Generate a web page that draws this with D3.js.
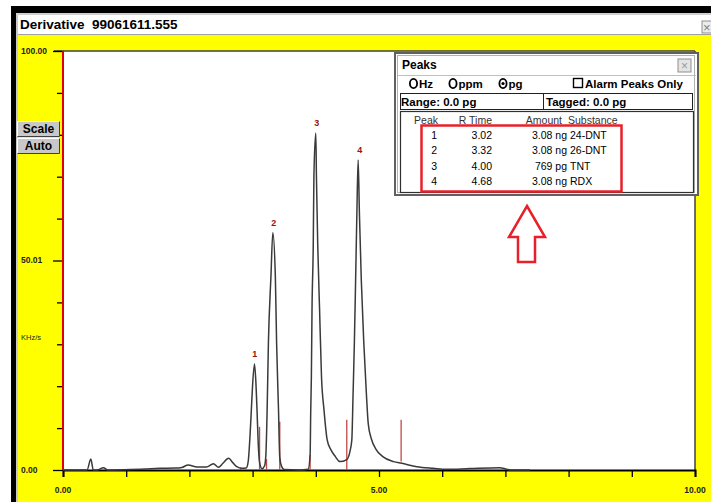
<!DOCTYPE html>
<html>
<head>
<meta charset="utf-8">
<script src="https://cdn.jsdelivr.net/npm/d3@7"></script>
<style>
  body { margin: 0; background: #fff; }
  text { font-family: "Liberation Sans", Arial, sans-serif; }
</style>
</head>
<body>
<div id="chart"></div>
<script>
// trace (retention time in min, signal in KHz/s)
var traceX = [0, 0.27, 0.38, 0.44, 0.48, 0.54, 0.64, 0.71, 1.06, 1.30, 1.53, 1.77, 1.88, 1.98, 2.12, 2.27, 2.38, 2.46, 2.53, 2.62, 2.69, 2.75, 2.83, 2.90, 2.93,
  2.96, 2.98, 3.00, 3.03, 3.05, 3.07, 3.09, 3.11, 3.15, 3.19, 3.21, 3.23, 3.25, 3.29, 3.32, 3.36, 3.38, 3.41, 3.43, 3.46, 3.50,
  3.74, 3.88, 3.91, 3.92, 3.93, 3.94, 3.96, 3.97, 4.00, 4.01, 4.03, 4.06, 4.09, 4.13, 4.18, 4.24, 4.31, 4.38, 4.49, 4.54, 4.57, 4.59,
  4.61, 4.63, 4.65, 4.67, 4.69, 4.72, 4.76, 4.80, 4.83, 4.88, 4.95, 5.06, 5.23, 5.36, 5.60, 5.86, 6.07, 6.44, 6.91, 7.02, 7.10, 7.39, 7.59];
var traceY = [0, 0, 0, 2.6, 0, 0, 0.55, 0, 0.1, 0.25, 0.4, 0.45, 0.6, 1.2, 0.7, 0.7, 1.5, 0.65, 1.6, 2.8, 1.7, 0.8, 0.4, 0.5, 2.0,
  8.4, 14.3, 20.3, 25.3, 21.5, 14.3, 6.0, 1.9, 0.3, 1.0, 3.6, 14.3, 30.2, 46.1, 56.6, 46.1, 30.2, 14.3, 3.0, 0.8, 0.1,
  0, 0.2, 3.6, 14.3, 22.3, 38.2, 54.1, 70.0, 80.4, 70.0, 54.1, 38.2, 22.3, 14.3, 7.2, 4.8, 3.2, 2.0, 2.5, 4.4, 7.2,
  18.3, 30.2, 45.3, 61.3, 74.0, 61.3, 45.3, 30.2, 18.3, 11.0, 7.4, 5.0, 3.2, 2.0, 1.6, 0.8, 0.4, 0.15, 0.35, 0.55, 0.2, 0, 0];

// peak table
var peakNums = [1, 2, 3, 4];
var rTimes = [3.02, 3.32, 4.00, 4.68];
var peakTops = [25.3, 56.6, 80.4, 74.0];
var amounts = ["3.08 ng", "3.08 ng", "769 pg", "3.08 ng"];
var substances = ["24-DNT", "26-DNT", "TNT", "RDX"];

// red integration markers
var markerX = [2.81, 3.11, 3.22, 3.43, 3.91, 4.49, 5.35];
var markerLo = [0, 0, 0, 0, 0, 0, 2.0];
var markerHi = [0.6, 10.3, 2.6, 11.5, 3.6, 12.0, 12.0];

// axis labels
var yLabelVals = [0, 50.01, 100];
var yLabels = ["0.00", "50.01", "100.00"];
var xLabelVals = [0, 5, 10];
var xLabels = ["0.00", "5.00", "10.00"];

var W = 711, H = 502;
var svg = d3.select("#chart").append("svg").attr("width", W).attr("height", H);

// window frame
svg.append("rect").attr("x", 0).attr("y", 0).attr("width", W).attr("height", H).attr("fill", "#fff");
svg.append("rect").attr("x", 11).attr("y", 6).attr("width", W - 11).attr("height", 7).attr("fill", "#000");
svg.append("rect").attr("x", 11).attr("y", 6).attr("width", 5).attr("height", H).attr("fill", "#000");
svg.append("rect").attr("x", 16).attr("y", 13).attr("width", 2).attr("height", H).attr("fill", "#c8c8c8");
svg.append("rect").attr("x", 16).attr("y", 13).attr("width", W).attr("height", 2).attr("fill", "#d0d0d0");
svg.append("rect").attr("x", 18).attr("y", 35).attr("width", W - 18).attr("height", H - 35).attr("fill", "#ffff00");
svg.append("line").attr("x1", 18).attr("x2", W).attr("y1", 34.5).attr("y2", 34.5).attr("stroke", "#a0a0a0");

svg.append("text").attr("x", 20).attr("y", 29).attr("font-size", 13.5).attr("font-weight", "bold")
  .text("Derivative");
svg.append("text").attr("x", 92).attr("y", 29).attr("font-size", 13.5).attr("font-weight", "bold")
  .text("99061611.555");
svg.append("rect").attr("x", 702).attr("y", 21).attr("width", 12).attr("height", 12)
  .attr("fill", "#ececec").attr("stroke", "#909090");
svg.append("text").attr("x", 703).attr("y", 31.5).attr("font-size", 13).attr("fill", "#808080").text("\u00d7");

// plot area
var x = d3.scaleLinear().domain([0, 10]).range([63, 695]);
var y = d3.scaleLinear().domain([0, 100]).range([470, 51]);

svg.append("rect").attr("x", x(0)).attr("y", y(100)).attr("width", x(10) - x(0)).attr("height", y(0) - y(100))
  .attr("fill", "#fff");
svg.append("line").attr("x1", 54).attr("x2", x(10)).attr("y1", y(100)).attr("y2", y(100))
  .attr("stroke", "#404040").attr("stroke-width", 1.5);
svg.append("line").attr("x1", x(10)).attr("x2", x(10)).attr("y1", y(100)).attr("y2", y(0))
  .attr("stroke", "#404040").attr("stroke-width", 1.5);

// y axis ticks
var yAxis = d3.axisLeft(y).tickValues(d3.range(0, 101, 10)).tickSize(6).tickFormat("");
var gy = svg.append("g").attr("transform", "translate(" + x(0) + ",0)").call(yAxis);
gy.select(".domain").remove();
gy.selectAll(".tick line").attr("stroke", "#000").attr("stroke-width", 1.3)
  .attr("x2", function(d) { return d % 50 == 0 ? -10 : -6; });

svg.selectAll(".ylab").data(yLabelVals).enter().append("text")
  .attr("x", 21).attr("y", function(d) { return y(d) + 3; })
  .attr("font-size", 8.5).attr("font-weight", "bold").attr("fill", "#222")
  .text(function(d, i) { return yLabels[i]; });
svg.append("text").attr("x", 21).attr("y", 340).attr("font-size", 7.5).attr("fill", "#222").text("KHz/s");

// x axis
var xAxis = d3.axisBottom(x).tickValues(d3.range(0, 11, 1)).tickSize(7).tickFormat("");
var gx = svg.append("g").attr("transform", "translate(0," + y(0) + ")").call(xAxis);
gx.select(".domain").attr("stroke", "#000").attr("stroke-width", 2);
gx.selectAll(".tick line").attr("stroke", "#000").attr("stroke-width", 1.3);

svg.selectAll(".xlab").data(xLabelVals).enter().append("text")
  .attr("x", function(d) { return x(d); }).attr("y", 493)
  .attr("text-anchor", "middle").attr("font-size", 8.5).attr("font-weight", "bold").attr("fill", "#222")
  .text(function(d, i) { return xLabels[i]; });

// markers
svg.selectAll(".marker").data(markerX).enter().append("line")
  .attr("x1", function(d) { return x(d); }).attr("x2", function(d) { return x(d); })
  .attr("y1", function(d, i) { return y(markerLo[i]); })
  .attr("y2", function(d, i) { return y(markerHi[i]); })
  .attr("stroke", "#c04848").attr("stroke-width", 1.3);

// trace
var pts = traceX.map(function(d, i) { return [d, traceY[i]]; });
var line = d3.line().x(function(d) { return x(d[0]); }).y(function(d) { return y(d[1]); })
  .curve(d3.curveMonotoneX);
svg.append("path").datum(pts).attr("d", line)
  .attr("fill", "none").attr("stroke", "#3a3a3a").attr("stroke-width", 1.5);

// left red axis line
svg.append("line").attr("x1", x(0)).attr("x2", x(0)).attr("y1", y(100)).attr("y2", y(0))
  .attr("stroke", "#e00000").attr("stroke-width", 2);

// peak numbers
svg.selectAll(".plab").data(peakNums).enter().append("text")
  .attr("x", function(d, i) { return x(rTimes[i]) + 1; })
  .attr("y", function(d, i) { return y(peakTops[i]) - 7; })
  .attr("text-anchor", "middle").attr("font-size", 9).attr("font-weight", "bold").attr("fill", "#9a1010")
  .text(function(d) { return d; });

// buttons
function button(label, by) {
  svg.append("rect").attr("x", 17).attr("y", by).attr("width", 43).attr("height", 16).attr("fill", "#c8c8c8");
  svg.append("path").attr("d", "M17.5," + (by + 15.5) + "V" + (by + 0.5) + "H59.5")
    .attr("fill", "none").attr("stroke", "#fff");
  svg.append("path").attr("d", "M17.5," + (by + 15.5) + "H59.5V" + (by + 0.5))
    .attr("fill", "none").attr("stroke", "#404040");
  svg.append("text").attr("x", 38.5).attr("y", by + 12).attr("text-anchor", "middle")
    .attr("font-size", 12).attr("font-weight", "bold").text(label);
}
button("Scale", 121);
button("Auto", 138);

// peaks panel
var px = 395, py = 53;
svg.append("rect").attr("x", px).attr("y", py).attr("width", 303).attr("height", 142)
  .attr("fill", "#fff").attr("stroke", "#606060").attr("stroke-width", 2);
svg.append("rect").attr("x", px + 2.5).attr("y", py + 2.5).attr("width", 297).attr("height", 137)
  .attr("fill", "none").attr("stroke", "#b0b0b0").attr("stroke-width", 1);
svg.append("text").attr("x", 402).attr("y", 69).attr("font-size", 12).attr("font-weight", "bold").text("Peaks");
svg.append("rect").attr("x", 678).attr("y", 59).attr("width", 13).attr("height", 13)
  .attr("fill", "#e4e4e4").attr("stroke", "#909090");
svg.append("text").attr("x", 684.5).attr("y", 70).attr("text-anchor", "middle").attr("font-size", 12)
  .attr("fill", "#999").text("\u00d7");
svg.append("line").attr("x1", 398).attr("x2", 696).attr("y1", 75.5).attr("y2", 75.5).attr("stroke", "#c0c0c0");

var radios = [["Hz", 413.5], ["ppm", 453], ["pg", 503]];
radios.forEach(function(r, i) {
  svg.append("ellipse").attr("cx", r[1]).attr("cy", 83.5).attr("rx", 3.6).attr("ry", 4.6)
    .attr("fill", "#fff").attr("stroke", "#000").attr("stroke-width", 1.8);
  if (i == 2) svg.append("circle").attr("cx", r[1]).attr("cy", 83.5).attr("r", 1.6).attr("fill", "#000");
  svg.append("text").attr("x", r[1] + 5.5).attr("y", 88).attr("font-size", 11.5).attr("font-weight", "bold").text(r[0]);
});
svg.append("rect").attr("x", 573.5).attr("y", 78.5).attr("width", 9).attr("height", 9)
  .attr("fill", "#fff").attr("stroke", "#000").attr("stroke-width", 1.4);
svg.append("text").attr("x", 585).attr("y", 88).attr("font-size", 11.5).attr("font-weight", "bold")
  .text("Alarm Peaks Only");

svg.append("rect").attr("x", 400.5).attr("y", 93.5).attr("width", 292).attr("height", 16)
  .attr("fill", "#fff").attr("stroke", "#202020");
svg.append("line").attr("x1", 543.5).attr("x2", 543.5).attr("y1", 93.5).attr("y2", 109.5).attr("stroke", "#202020");
svg.append("text").attr("x", 401).attr("y", 105.5).attr("font-size", 11.5).attr("font-weight", "bold").text("Range: 0.0 pg");
svg.append("text").attr("x", 546).attr("y", 105.5).attr("font-size", 11.5).attr("font-weight", "bold").text("Tagged: 0.0 pg");

svg.append("rect").attr("x", 400.5).attr("y", 111.5).attr("width", 293).attr("height", 81)
  .attr("fill", "#fff").attr("stroke", "#303030").attr("stroke-width", 1.2);

var hdr = [["Peak", 438, "end"], ["R Time", 492, "end"], ["Amount", 562, "end"], ["Substance", 568, "start"]];
hdr.forEach(function(h) {
  svg.append("text").attr("x", h[1]).attr("y", 124).attr("text-anchor", h[2]).attr("font-size", 10.5)
    .attr("fill", "#333").text(h[0]);
});
var rows = svg.selectAll(".row").data(peakNums).enter().append("g")
  .attr("transform", function(d, i) { return "translate(0," + (139 + i * 15.3) + ")"; });
rows.append("text").attr("x", 437).attr("text-anchor", "end").attr("font-size", 10.5).text(function(d) { return d; });
rows.append("text").attr("x", 492).attr("text-anchor", "end").attr("font-size", 10.5)
  .text(function(d, i) { return rTimes[i].toFixed(2); });
rows.append("text").attr("x", 567).attr("text-anchor", "end").attr("font-size", 10.5)
  .text(function(d, i) { return amounts[i]; });
rows.append("text").attr("x", 570).attr("font-size", 10.5).text(function(d, i) { return substances[i]; });

// red highlight box
svg.append("rect").attr("x", 421.5).attr("y", 125.5).attr("width", 200).attr("height", 66)
  .attr("fill", "none").attr("stroke", "#e8202a").attr("stroke-width", 2.5);

// up arrow
svg.append("path")
  .attr("d", "M527,206 L545,237 L535,237 L535,262 L518,262 L518,237 L509,237 Z")
  .attr("fill", "#fff").attr("stroke", "#e8202a").attr("stroke-width", 2.5).attr("stroke-linejoin", "miter");
</script>
</body>
</html>
